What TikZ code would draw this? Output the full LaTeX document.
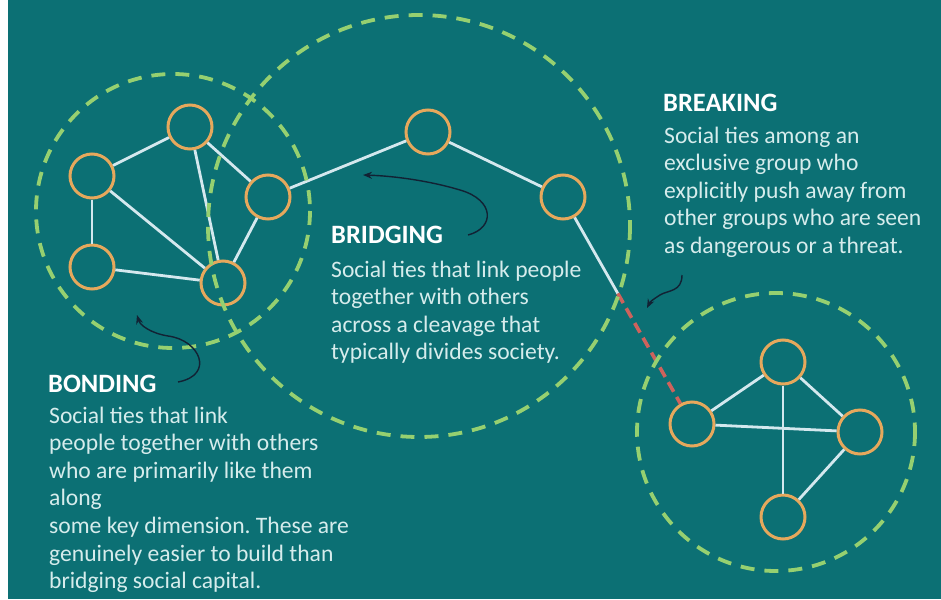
\documentclass[tikz,border=0pt]{standalone}
\usepackage{fontspec}
\setmainfont{Carlito}
\usetikzlibrary{arrows.meta,calc}
\definecolor{bg}{RGB}{12,112,116}
\definecolor{ring}{RGB}{150,208,112}
\definecolor{orng}{RGB}{230,168,92}
\definecolor{edgec}{RGB}{212,232,238}
\definecolor{redd}{RGB}{206,98,92}
\definecolor{arrc}{RGB}{18,34,52}
\definecolor{bodyc}{RGB}{214,236,236}
\tikzset{
  person/.style={circle, draw=orng, line width=3pt, minimum size=44pt, inner sep=0pt},
  tie/.style={draw=edgec, line width=2.8pt},
  brk/.style={draw=redd, line width=3.6pt, dash pattern=on 11pt off 6pt},
  group/.style={draw=ring, line width=3.8pt, dash pattern=on 14pt off 10pt},
  pointer/.style={draw=arrc, line width=1.4pt, -{Stealth[length=9pt,width=7pt]}},
  head/.style={anchor=base west, inner sep=0pt, text=white, font=\bfseries\fontsize{26.5}{30}\selectfont},
  body/.style={anchor=base west, inner sep=0pt, text=bodyc},
}
\newcommand{\blk}[1]{\parbox[t]{320pt}{\frenchspacing\fontsize{23.6}{27.6}\selectfont\raggedright #1}}
\begin{document}
\begin{tikzpicture}[x=1pt,y=-1pt]
\useasboundingbox (0,0) rectangle (941,599);
\fill[white] (0,0) rectangle (8,599);
\fill[bg] (8,0) rectangle (941,599);

% nodes
\node[person] (A) at (190,127) {};
\node[person] (B) at (92,176) {};
\node[person] (C) at (92,267) {};
\node[person] (D) at (223,283) {};
\node[person] (E) at (268,197) {};
\node[person] (F) at (428,132) {};
\node[person] (G) at (563,197) {};
\node[person] (H) at (692,424) {};
\node[person] (I) at (783,362) {};
\node[person] (J) at (860,432) {};
\node[person] (K) at (783,517) {};
\coordinate (cut) at ($(G)!0.425!(H)$);

% ties
\draw[tie] (A) -- (B);
\draw[tie] (A) -- (D);
\draw[tie] (A) -- (E);
\draw[tie] (B) -- (C);
\draw[tie] (B) -- (D);
\draw[tie] (C) -- (D);
\draw[tie] (E) -- (D);
\draw[tie] (E) -- (F);
\draw[tie] (F) -- (G);
\draw[tie] (G) -- (cut);
\draw[brk] (cut) -- (H);
\draw[tie] (H) -- (I);
\draw[tie] (H) -- (J);
\draw[tie] (I) -- (J);
\draw[tie] (I) -- (K);
\draw[tie] (J) -- (K);

% groups
\draw[group] (173,211) circle[radius=137];
\draw[group] (419,226) circle[radius=211];
\draw[group] (776,432) circle[radius=139];

% texts
\node[head] (hbr) at (663,112) {BREAKING};
\node[body] (tbr) at (664,143) {\blk{Social ties among an\\exclusive group who\\explicitly push away from\\other groups who are seen\\as dangerous or a threat.}};
\node[head] (hbi) at (331,243) {BRIDGING};
\node[body] (tbi) at (331,277) {\blk{Social ties that link people\\together with others\\across a cleavage that\\typically divides society.}};
\node[head] (hbo) at (48,392) {BONDING};
\node[body] (tbo) at (49,423) {\blk{Social ties that link\\people together with others\\who are primarily like them\\along\\some key dimension. These are\\genuinely easier to build than\\bridging social capital.}};

% pointers
\coordinate (p1s) at (178,382);
\coordinate (p1e) at (137,315);
\draw[pointer] (p1s) .. controls (215,375) and (200,340) .. (168,336) .. controls (150,333) and (140,325) .. (p1e);
\coordinate (p2s) at (468,235);
\coordinate (p2e) at (363,175);
\draw[pointer] (p2s) .. controls (495,228) and (495,200) .. (460,190) .. controls (430,181) and (395,176) .. (p2e);
\coordinate (p3s) at (682,275);
\coordinate (p3e) at (647,308);
\draw[pointer] (p3s) .. controls (682,292) and (668,290) .. (660,295) .. controls (652,300) and (650,302) .. (p3e);
\end{tikzpicture}
\end{document}
